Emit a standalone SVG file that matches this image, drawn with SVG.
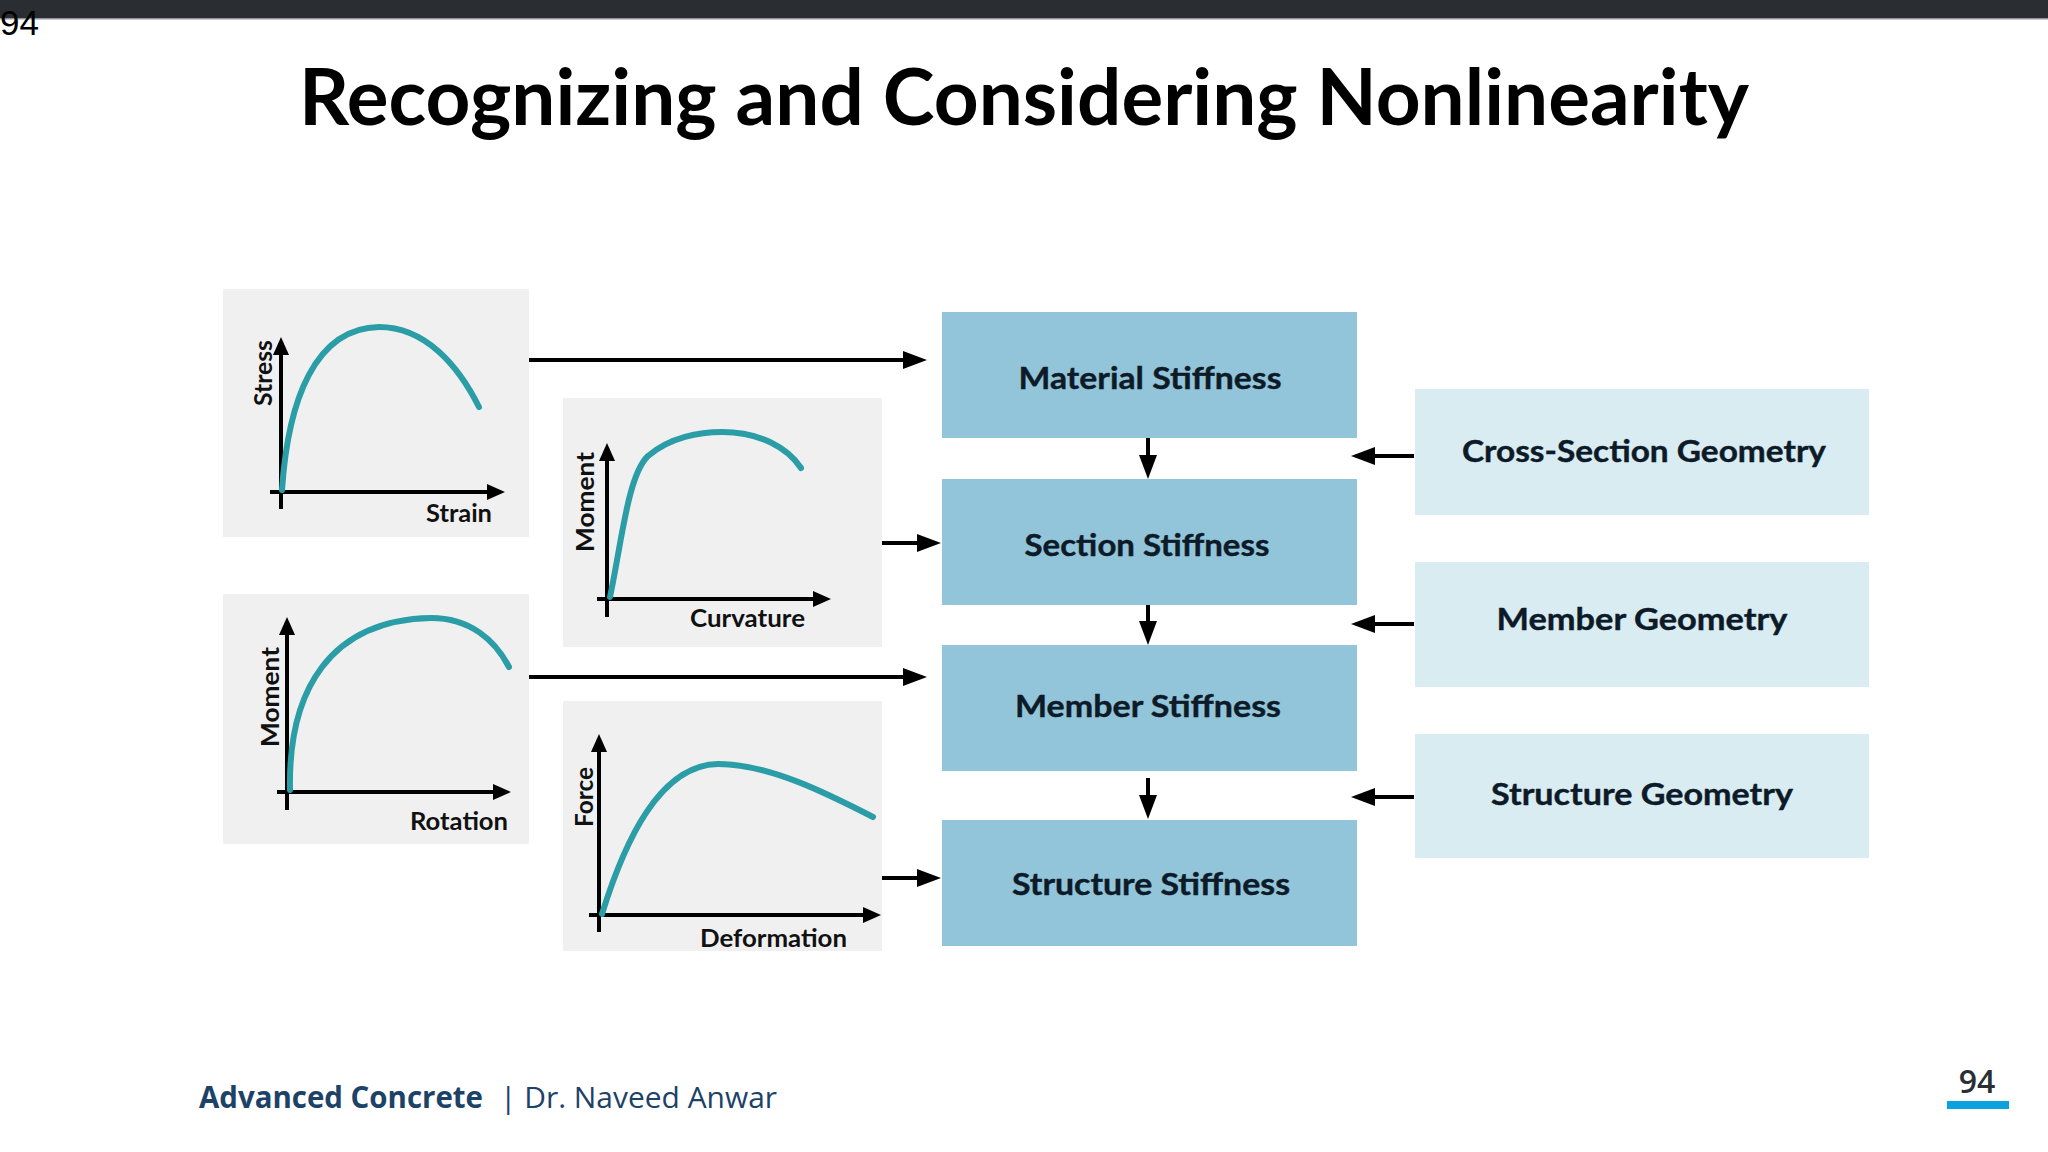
<svg xmlns="http://www.w3.org/2000/svg" width="2048" height="1152" viewBox="0 0 2048 1152">
<style>
.panel{fill:#f0f0f1}
.axis{stroke:#000;stroke-width:4;fill:none}
.curve{stroke:#2a9da6;stroke-width:6;fill:none;stroke-linecap:round}
.lbl{font-family:Lato,"Open Sans",sans-serif;font-weight:700;font-size:24px;fill:#111}
.blue{fill:#92c5d9}
.lite{fill:#d9ecf2}
.box{font-family:Lato,"Open Sans",sans-serif;font-weight:700;font-size:30px;fill:#0d1a28;text-anchor:middle;stroke:#0d1a28;stroke-width:0.4}
.conn{stroke:#000;stroke-width:4;fill:none}
</style>
<defs>
<marker id="ah" markerUnits="userSpaceOnUse" markerWidth="24" markerHeight="18" refX="14" refY="9" orient="auto">
<path d="M0,0 L24,9 L0,18 Z" fill="#000"/>
</marker>
<marker id="ax" markerUnits="userSpaceOnUse" markerWidth="18" markerHeight="16" refX="8" refY="8" orient="auto">
<path d="M0,0 L18,8 L0,16 Z" fill="#000"/>
</marker>
</defs>
<rect width="2048" height="1152" fill="#fff"/>
<rect x="0" y="0" width="2048" height="18" fill="#2a2e32"/>
<rect x="0" y="18" width="2048" height="1.5" fill="#8f9396"/>
<text x="0" y="35" font-family="Liberation Sans, sans-serif" font-size="35" fill="#000">94</text>
<text x="1024" y="125" font-family="Lato, 'Open Sans', sans-serif" font-weight="700" font-size="78" text-anchor="middle" textLength="1450" lengthAdjust="spacingAndGlyphs" fill="#000">Recognizing and Considering Nonlinearity</text>

<g id="panel-stress-strain">
<rect class="panel" x="223" y="289" width="306" height="248"/>
<line class="axis" x1="281" y1="509" x2="281" y2="347" marker-end="url(#ax)"/>
<line class="axis" x1="270" y1="492" x2="495" y2="492" marker-end="url(#ax)"/>
<path class="curve" d="M282,490 C288,400 315,328 379,327 C425,327 458,365 479,407"/>
<text class="lbl" transform="translate(272,373) rotate(-90)" text-anchor="middle" textLength="66" lengthAdjust="spacingAndGlyphs">Stress</text>
<text class="lbl" x="492" y="522" text-anchor="end" textLength="66" lengthAdjust="spacingAndGlyphs">Strain</text>
</g>

<g id="panel-moment-curvature">
<rect class="panel" x="563" y="398" width="319" height="249"/>
<line class="axis" x1="607" y1="617" x2="607" y2="453" marker-end="url(#ax)"/>
<line class="axis" x1="597" y1="599" x2="821" y2="599" marker-end="url(#ax)"/>
<path class="curve" d="M610,597 C622,540 628,475 648,456 C670,437 700,432 722,432 C760,432 788,448 801,468"/>
<text class="lbl" transform="translate(594,502) rotate(-90)" text-anchor="middle" textLength="100" lengthAdjust="spacingAndGlyphs">Moment</text>
<text class="lbl" x="805" y="627" text-anchor="end" textLength="115" lengthAdjust="spacingAndGlyphs">Curvature</text>
</g>

<g id="panel-moment-rotation">
<rect class="panel" x="223" y="594" width="306" height="250"/>
<line class="axis" x1="287" y1="810" x2="287" y2="627" marker-end="url(#ax)"/>
<line class="axis" x1="277" y1="792" x2="501" y2="792" marker-end="url(#ax)"/>
<path class="curve" d="M290,790 C288,690 330,620 431,618 C470,618 495,640 509,667"/>
<text class="lbl" transform="translate(279,697) rotate(-90)" text-anchor="middle" textLength="100" lengthAdjust="spacingAndGlyphs">Moment</text>
<text class="lbl" x="508" y="830" text-anchor="end" textLength="98" lengthAdjust="spacingAndGlyphs">Rotation</text>
</g>

<g id="panel-force-deformation">
<rect class="panel" x="563" y="701" width="319" height="250"/>
<line class="axis" x1="599" y1="932" x2="599" y2="744" marker-end="url(#ax)"/>
<line class="axis" x1="589" y1="915" x2="871" y2="915" marker-end="url(#ax)"/>
<path class="curve" d="M602,914 C625,840 660,765 718,764 C770,764 830,795 873,817"/>
<text class="lbl" transform="translate(593,797) rotate(-90)" text-anchor="middle" textLength="60" lengthAdjust="spacingAndGlyphs">Force</text>
<text class="lbl" x="847" y="947" text-anchor="end" textLength="147" lengthAdjust="spacingAndGlyphs">Deformation</text>
</g>

<g id="material-stiffness">
<rect class="blue" x="942" y="312" width="415" height="126"/>
<text class="box" x="1150" y="389" textLength="263" lengthAdjust="spacingAndGlyphs">Material Stiffness</text>
</g>
<g id="section-stiffness">
<rect class="blue" x="942" y="479" width="415" height="126"/>
<text class="box" x="1147" y="556" textLength="245" lengthAdjust="spacingAndGlyphs">Section Stiffness</text>
</g>
<g id="member-stiffness">
<rect class="blue" x="942" y="645" width="415" height="126"/>
<text class="box" x="1148" y="717" textLength="266" lengthAdjust="spacingAndGlyphs">Member Stiffness</text>
</g>
<g id="structure-stiffness">
<rect class="blue" x="942" y="820" width="415" height="126"/>
<text class="box" x="1151" y="895" textLength="278" lengthAdjust="spacingAndGlyphs">Structure Stiffness</text>
</g>

<g id="cross-section-geometry">
<rect class="lite" x="1415" y="389" width="454" height="126"/>
<text class="box" x="1644" y="462" textLength="364" lengthAdjust="spacingAndGlyphs">Cross-Section Geometry</text>
</g>
<g id="member-geometry">
<rect class="lite" x="1415" y="562" width="454" height="125"/>
<text class="box" x="1642" y="630" textLength="291" lengthAdjust="spacingAndGlyphs">Member Geometry</text>
</g>
<g id="structure-geometry">
<rect class="lite" x="1415" y="734" width="454" height="124"/>
<text class="box" x="1642" y="805" textLength="302" lengthAdjust="spacingAndGlyphs">Structure Geometry</text>
</g>

<g id="connectors">
<line class="conn" x1="529" y1="360" x2="917" y2="360" marker-end="url(#ah)"/>
<line class="conn" x1="882" y1="543" x2="931" y2="543" marker-end="url(#ah)"/>
<line class="conn" x1="529" y1="677" x2="917" y2="677" marker-end="url(#ah)"/>
<line class="conn" x1="882" y1="878" x2="931" y2="878" marker-end="url(#ah)"/>
<line class="conn" x1="1148" y1="438" x2="1148" y2="469" marker-end="url(#ah)"/>
<line class="conn" x1="1148" y1="605" x2="1148" y2="635" marker-end="url(#ah)"/>
<line class="conn" x1="1148" y1="778" x2="1148" y2="809" marker-end="url(#ah)"/>
<line class="conn" x1="1414" y1="456" x2="1361" y2="456" marker-end="url(#ah)"/>
<line class="conn" x1="1414" y1="624" x2="1361" y2="624" marker-end="url(#ah)"/>
<line class="conn" x1="1414" y1="797" x2="1361" y2="797" marker-end="url(#ah)"/>
</g>

<g id="footer">
<text x="199" y="1108" font-family="'Open Sans', sans-serif" font-weight="700" font-size="30" fill="#1d4268" textLength="284" lengthAdjust="spacingAndGlyphs">Advanced Concrete</text>
<text x="500" y="1108" font-family="'Open Sans', sans-serif" font-size="30" fill="#1d4268" textLength="277" lengthAdjust="spacingAndGlyphs">| Dr. Naveed Anwar</text>
<text x="1977" y="1093" font-family="'Open Sans', sans-serif" font-size="32" font-weight="600" fill="#2a2f36" text-anchor="middle">94</text>
<rect x="1947" y="1101" width="62" height="8" fill="#0ba3de"/>
</g>
</svg>
